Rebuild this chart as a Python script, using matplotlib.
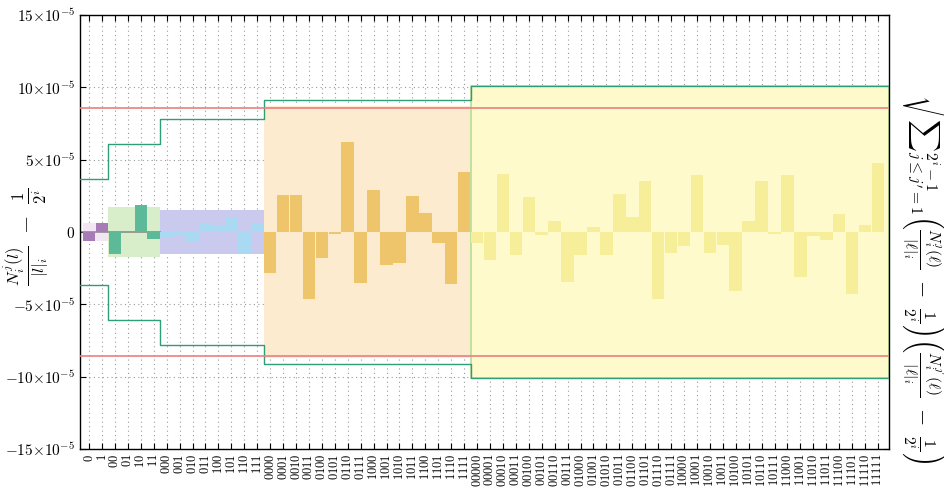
import numpy as np
import matplotlib
matplotlib.use("Agg")
import matplotlib.pyplot as plt
from matplotlib.patches import Rectangle

plt.rcParams['mathtext.fontset'] = 'cm'
plt.rcParams['font.family'] = 'DejaVu Serif'

# binary words of length 1..5, in order
labels = ["0", "1"]
for n in range(2, 6):
    labels += [format(k, "0%db" % n) for k in range(2 ** n)]

# deviations N_i^j / |l|_i - 1/2^i, in units of 1e-5, one list per word length
dev_1 = [-0.6, 0.6]
dev_2 = [-1.5, 0.0, 1.9, -0.45]
dev_3 = [-0.35, -0.2, -0.63, 0.64, 0.48, 0.99, -1.47, 0.6]
dev_4 = [-2.85, 2.55, 2.55, -4.65, -1.77, -0.16, 6.2, -3.55,
         2.9, -2.28, -2.17, 2.5, 1.33, -0.78, -3.6, 4.12]
dev_5 = [-0.78, -1.93, 4.0, -1.59, 2.44, -0.2, 0.78, -3.43,
         -1.59, 0.37, -1.59, 2.6, 1.06, 3.52, -4.63, -1.47,
         -1.0, 3.94, -1.47, -0.9, -4.08, 0.76, 3.52, -0.16,
         3.94, -3.13, -0.3, -0.55, 1.22, -4.3, 0.48, 4.79]

# per-length spread (shaded box), bound (step line) and threshold (red line)
spread = [0.6, 1.72, 1.5, 8.7, 10.1]
bound = [3.65, 6.1, 7.8, 9.1, 10.1]
threshold = 8.6

devs = [dev_1, dev_2, dev_3, dev_4, dev_5]
bar_colors = ["#a77bb6", "#5dba98", "#a9d9f3", "#eec56b", "#f6ee98"]
box_colors = ["#f1e6f2", "#d8edc9", "#cacaef", "#fdebd0", "#fffacb"]

scale = 1e-5
x_lo, x_hi = -0.7, 61.85

fig, ax = plt.subplots(figsize=(9.45, 4.94), dpi=100)
fig.subplots_adjust(left=0.0847, right=0.9407, bottom=0.0911, top=0.9696)

start = 0
edges = [x_lo]
for lvl, d in enumerate(devs):
    n = len(d)
    x = np.arange(start, start + n)
    left = start - 0.5
    right = start + n - 0.5
    if lvl == len(devs) - 1:
        right = x_hi
    edges.append(right)
    ax.add_patch(Rectangle((left, -spread[lvl] * scale), right - left,
                           2 * spread[lvl] * scale, facecolor=box_colors[lvl],
                           edgecolor="#b5dd95" if lvl == 4 else "none",
                           lw=1.2, zorder=1))
    ax.bar(x, np.array(d) * scale, width=0.97, color=bar_colors[lvl],
           edgecolor="none", zorder=2)
    start += n

# zero baseline under the two shortest word lengths
ax.plot([x_lo, edges[2]], [0, 0], color="#777777", lw=1.2, alpha=0.8, zorder=1.5)

# step bound above and below
b = np.array(bound + [bound[-1]]) * scale
ax.step(edges, b, where="post", color="#2f9e78", lw=1.0, zorder=3)
ax.step(edges, -b, where="post", color="#2f9e78", lw=1.0, zorder=3)

ax.axhline(threshold * scale, color="#e88080", lw=1.2, zorder=3)
ax.axhline(-threshold * scale, color="#e88080", lw=1.2, zorder=3)

ax.set_xlim(x_lo, x_hi)
ax.set_ylim(-15 * scale, 15 * scale)

ax.set_xticks(np.arange(len(labels)))
ax.set_xticklabels([r"$\mathrm{%s}$" % s for s in labels], rotation=90, fontsize=9)

yt = np.arange(-15, 16, 5)
ax.set_yticks(yt * scale)
ax.set_yticklabels([r"$0$" if v == 0 else r"$%d{\times}10^{-5}$" % v for v in yt],
                   fontsize=11)

ax.tick_params(direction="in", top=True, right=True, length=4, width=0.8)
ax.grid(True, linestyle=(0, (1, 3)), color="#999999", lw=0.8, zorder=0)
ax.set_axisbelow(True)
for s in ax.spines.values():
    s.set_linewidth(1.0)

fig.text(0.028, 0.52, r"$\frac{N_i^j(l)}{|l|_i}\ -\ \frac{1}{2^i}$",
         rotation=90, ha="center", va="center", fontsize=17)

fig.text(0.983, 0.43,
         r"$\sqrt{{\sum}_{j\leq j'=1}^{2^i-1}\left(\frac{N_i^j(\ell)}{|\ell|_i}\ -\ \frac{1}{2^i}\right)"
         r"\left(\frac{N_i^{j'}(\ell)}{|\ell|_i}\ -\ \frac{1}{2^i}\right)}$",
         rotation=-90, ha="center", va="center", fontsize=16)

fig.savefig("out.png", dpi=100)
